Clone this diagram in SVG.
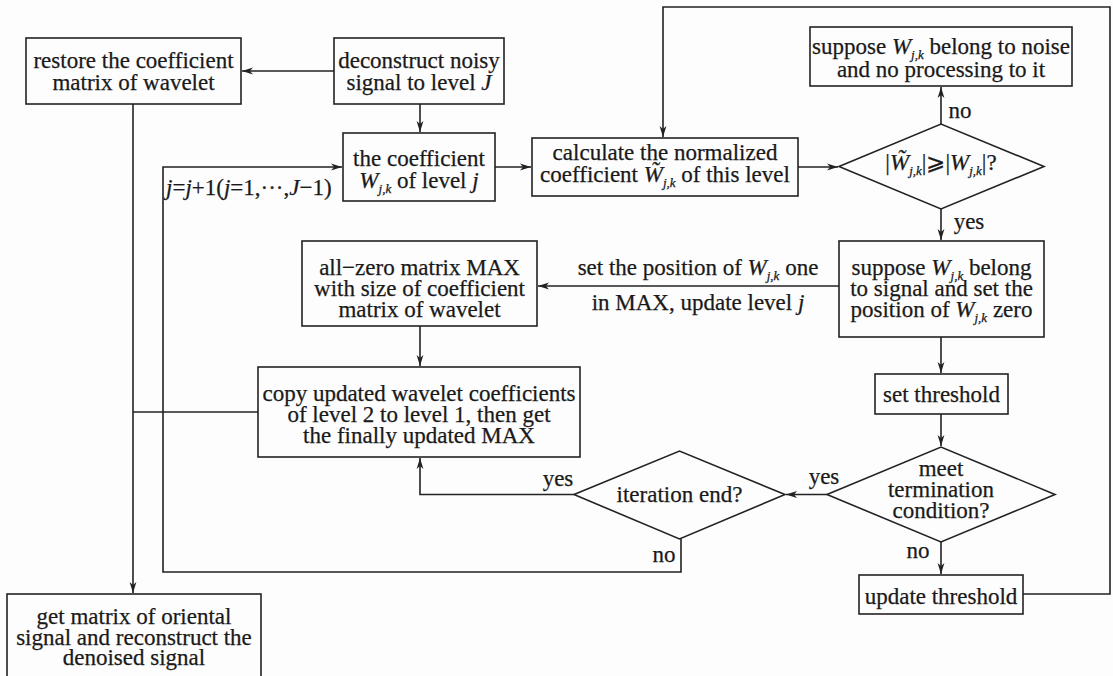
<svg xmlns="http://www.w3.org/2000/svg" width="1113" height="676" viewBox="0 0 1113 676">
<style>
.t{font-family:"Liberation Serif","Times New Roman","DejaVu Serif",serif;font-size:23px;fill:#1a1a1a;stroke:#1a1a1a;stroke-width:0.25;text-anchor:middle}
.l{text-anchor:start}
.i{font-style:italic}
.s{font-size:13px;font-style:italic}
.box{fill:none;stroke:#222;stroke-width:1.6}
.ln{fill:none;stroke:#222;stroke-width:1.6}
</style>
<defs>
<marker id="ah" markerWidth="12" markerHeight="8" refX="11" refY="4" orient="auto" markerUnits="userSpaceOnUse">
<path d="M0,0.6 L11,4 L0,7.4 L3,4 Z" fill="#222"/>
</marker>
</defs>
<rect x="0" y="0" width="1113" height="676" fill="#fdfdfd"/>

<g id="connectors">
<path class="ln" d="M334,71 H242" marker-end="url(#ah)"/>
<path class="ln" d="M420,104 V132" marker-end="url(#ah)"/>
<path class="ln" d="M495,167 H531" marker-end="url(#ah)"/>
<path class="ln" d="M798,167 H838" marker-end="url(#ah)"/>
<path class="ln" d="M941,124 V87" marker-end="url(#ah)"/>
<path class="ln" d="M941,209 V240" marker-end="url(#ah)"/>
<path class="ln" d="M839,286 H538" marker-end="url(#ah)"/>
<path class="ln" d="M420,326 V366" marker-end="url(#ah)"/>
<path class="ln" d="M941,337 V373" marker-end="url(#ah)"/>
<path class="ln" d="M941,414 V446" marker-end="url(#ah)"/>
<path class="ln" d="M827,494.5 H786" marker-end="url(#ah)"/>
<path class="ln" d="M574,494.5 H420 V458" marker-end="url(#ah)"/>
<path class="ln" d="M681,539 V572 H163 V167 H342" marker-end="url(#ah)"/>
<path class="ln" d="M941,542 V574" marker-end="url(#ah)"/>
<path class="ln" d="M1023,594 H1110 V7 H663 V137" marker-end="url(#ah)"/>
<path class="ln" d="M133,104 V593" marker-end="url(#ah)"/>
<path class="ln" d="M258,412 H133"/>
<text class="t l" x="166" y="195"><tspan class="i">j</tspan>=<tspan class="i">j</tspan>+1(<tspan class="i">j</tspan>=1,···,<tspan class="i">J</tspan>−1)</text>
<text class="t" x="960" y="118">no</text>
<text class="t" x="969" y="229">yes</text>
<text class="t" x="824" y="484">yes</text>
<text class="t" x="558" y="486">yes</text>
<text class="t" x="918" y="558">no</text>
<text class="t" x="664" y="562">no</text>
<text class="t" x="698" y="275">set the position of <tspan class="i">W</tspan><tspan class="s" dy="5">j,k</tspan><tspan dy="-5"> one</tspan></text>
<text class="t" x="698" y="310">in MAX, update level <tspan class="i">j</tspan></text>
</g>

<g id="restore">
<rect class="box" x="26" y="38" width="215" height="66"/>
<text class="t" x="133.5" y="68">restore the coefficient</text>
<text class="t" x="133.5" y="90">matrix of wavelet</text>
</g>

<g id="deconstruct">
<rect class="box" x="334" y="38" width="170" height="66"/>
<text class="t" x="419" y="68">deconstruct noisy</text>
<text class="t" x="419" y="90">signal to level <tspan class="i">J</tspan></text>
</g>

<g id="coefficient">
<rect class="box" x="343" y="133" width="152" height="68"/>
<text class="t" x="419" y="166">the coefficient</text>
<text class="t" x="419" y="188"><tspan class="i">W</tspan><tspan class="s" dy="5">j,k</tspan><tspan dy="-5"> of level </tspan><tspan class="i">j</tspan></text>
</g>

<g id="calc">
<rect class="box" x="532" y="138" width="266" height="58"/>
<text class="t" x="665" y="159.5">calculate the normalized</text>
<text class="t" x="665" y="181.5">coefficient <tspan class="i">W&#x303;</tspan><tspan class="s" dy="5">j,k</tspan><tspan dy="-5"> of this level</tspan></text>
</g>

<g id="noise">
<rect class="box" x="810" y="27" width="262" height="59"/>
<text class="t" x="941" y="54">suppose <tspan class="i">W</tspan><tspan class="s" dy="5">j,k</tspan><tspan dy="-5"> belong to noise</tspan></text>
<text class="t" x="941" y="77">and no processing to it</text>
</g>

<g id="compare">
<polygon class="box" points="839,166.5 941,124 1044,166.5 941,209"/>
<text class="t" x="941" y="170">|<tspan class="i">W&#x303;</tspan><tspan class="s" dy="5">j,k</tspan><tspan dy="-5">|⩾|</tspan><tspan class="i">W</tspan><tspan class="s" dy="5">j,k</tspan><tspan dy="-5">|?</tspan></text>
</g>

<g id="signal">
<rect class="box" x="839" y="241" width="205" height="96"/>
<text class="t" x="941.5" y="275">suppose <tspan class="i">W</tspan><tspan class="s" dy="5">j,k</tspan><tspan dy="-5"> belong</tspan></text>
<text class="t" x="941.5" y="296">to signal and set the</text>
<text class="t" x="941.5" y="317">position of <tspan class="i">W</tspan><tspan class="s" dy="5">j,k</tspan><tspan dy="-5"> zero</tspan></text>
</g>

<g id="allzero">
<rect class="box" x="302" y="241" width="235" height="85"/>
<text class="t" x="419.5" y="275">all−zero matrix MAX</text>
<text class="t" x="419.5" y="296">with size of coefficient</text>
<text class="t" x="419.5" y="317">matrix of wavelet</text>
</g>

<g id="setthreshold">
<rect class="box" x="875" y="374" width="133" height="40"/>
<text class="t" x="941.5" y="402">set threshold</text>
</g>

<g id="termination">
<polygon class="box" points="827,494.5 941,447 1055,494.5 941,542"/>
<text class="t" x="941" y="476">meet</text>
<text class="t" x="941" y="497">termination</text>
<text class="t" x="941" y="518">condition?</text>
</g>

<g id="iteration">
<polygon class="box" points="574,494.5 679.5,451 785,494.5 679.5,539"/>
<text class="t" x="679.5" y="502">iteration end?</text>
</g>

<g id="copy">
<rect class="box" x="258" y="367" width="322" height="90"/>
<text class="t" x="419" y="401">copy updated wavelet coefficients</text>
<text class="t" x="419" y="422">of level 2 to level 1, then get</text>
<text class="t" x="419" y="443">the finally updated MAX</text>
</g>

<g id="updatethreshold">
<rect class="box" x="859" y="575" width="164" height="39"/>
<text class="t" x="941" y="604">update threshold</text>
</g>

<g id="getmatrix">
<rect class="box" x="7" y="594" width="254" height="96"/>
<text class="t" x="134" y="624">get matrix of oriental</text>
<text class="t" x="134" y="645">signal and reconstruct the</text>
<text class="t" x="134" y="665">denoised signal</text>
</g>
</svg>
